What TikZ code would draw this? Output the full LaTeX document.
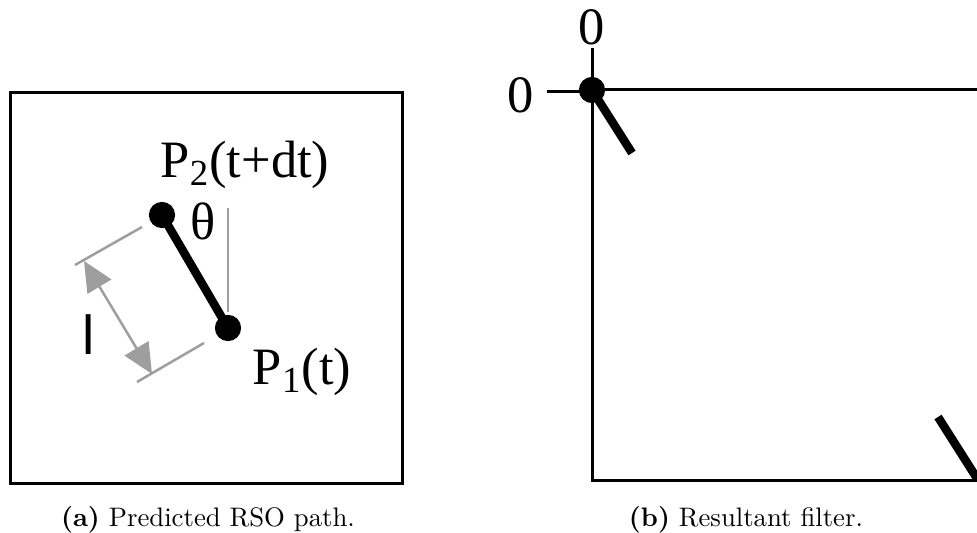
\documentclass[tikz,border=0pt]{standalone}
\usepackage{fontspec}
\newfontfamily\timesfont{Liberation Serif}
\newfontfamily\arialfont{Liberation Sans}
\usetikzlibrary{arrows.meta,positioning,calc}

\begin{document}
\begin{tikzpicture}[x=0.4pt, y=-0.4pt,
  frame/.style={line width=1.2pt},
  dot/.style={circle, fill=black, inner sep=0pt, minimum size=10.5pt},
  rod/.style={line width=3.4pt},
  guide/.style={black!38, line width=1pt},
  dim/.style={guide, {Triangle[length=12pt, width=11pt]}-{Triangle[length=12pt, width=11pt]}},
  lbl/.style={font=\timesfont\fontsize{21}{21}\selectfont, inner sep=1pt},
  subcap/.style={font=\fontsize{10.7}{12}\selectfont, anchor=base, inner sep=0pt}
]
\clip (0,0) rectangle (977,532);

% (a) predicted path
\draw[frame] (10,93) rectangle (402,483);
\draw[guide] (228,208) -- (228,312);
\draw[guide] (75,265) -- (142,227);
\draw[guide] (137,382) -- (204,343);
\coordinate (la) at (84,261);
\coordinate (lb) at (152,374);
\draw[dim] (la) -- (lb);
\node[dot] (p2) at (162,215) {};
\node[dot] (p1) at (228,328) {};
\draw[rod] (p2.center) -- (p1.center);
\node[lbl] (p2lbl) at (245,165) {P\textsubscript{2}(t+dt)};
\node[lbl] (p1lbl) at (302,372) {P\textsubscript{1}(t)};
\node[lbl] (theta) at (203,221) {θ};
\node[font=\arialfont\fontsize{22}{22}\selectfont] (len) at (89,335) {l};
\node[subcap] (capa) at (208,526) {\textbf{(a)} Predicted RSO path.};

% (b) resultant filter
\draw[frame] (979,90) -- (592,90) -- (592,480) -- (979,480) -- cycle;
\node[dot] (origin) at (592,90) {};
\node[lbl] (zerotop) at (592,27) {0};
\node[lbl] (zeroleft) at (521,95) {0};
\coordinate (tickl) at (547,92);
\draw[frame] (592,48) -- (origin.center);
\draw[frame] (tickl) -- (tickl -| origin.center);
\draw[rod] (origin.center) -- (632,153);
\coordinate (corner) at (978,480);
\draw[rod] (corner) -- ++(-40,-63);
\node[subcap] (capb) at (746,526) {\textbf{(b)} Resultant filter.};
\end{tikzpicture}
\end{document}
